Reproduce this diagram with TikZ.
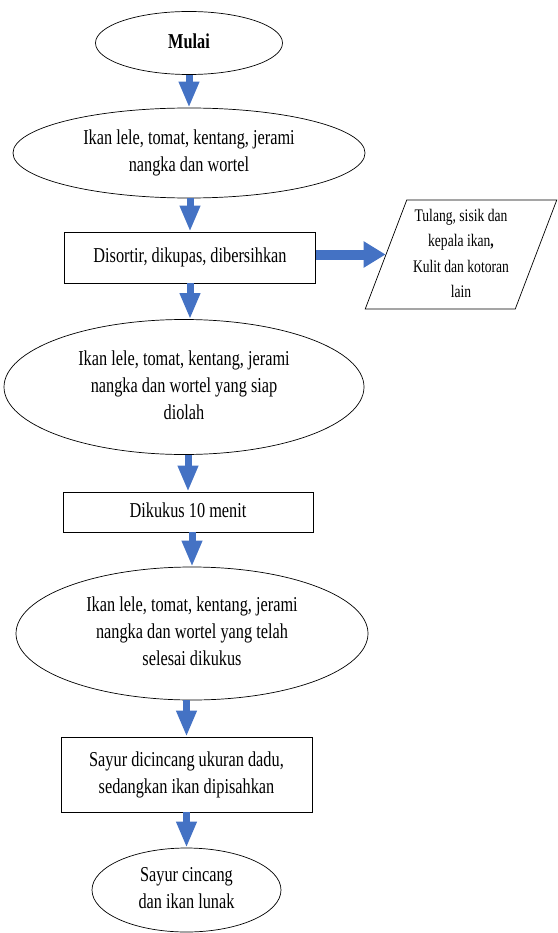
\documentclass[tikz,border=0pt]{standalone}
\usepackage{fontspec}
\setmainfont{Liberation Serif}
\usepackage{graphicx}
\usetikzlibrary{shapes.geometric,arrows.meta}

\definecolor{panah}{HTML}{4472C4}
% teks sedikit ditinggikan seperti di gambar asli
\newcommand{\tinggi}[1]{\scalebox{1}[1.3]{\begin{tabular}{@{}c@{}}#1\end{tabular}}}

\begin{document}
\begin{tikzpicture}[
        x=1pt, y=-1pt,
        every node/.style={draw=black, line width=0.7pt, inner sep=0pt, font=\fontsize{16.3}{20.8}\selectfont},
        nodeelips/.style={ellipse},
        nodekotak/.style={rectangle, minimum width=251pt},
        nodejajar/.style={trapezium, trapezium left angle=70, trapezium right angle=110, trapezium stretches=true, minimum width=192pt, minimum height=109pt, font=\fontsize{13.6}{19.4}\selectfont},
        panahbiru/.style={-{Triangle[length=26pt, width=19pt]}, line width=7pt, draw=panah}
        ]
        \useasboundingbox (0,0) rectangle (557,933);

        \node [nodeelips, minimum width=187pt, minimum height=63pt] (mulai) at (189,43) {\tinggi{\textbf{Mulai}}};
        \node [nodeelips, minimum width=352pt, minimum height=90pt] (bahan) at (189,153) {\tinggi{Ikan lele, tomat, kentang, jerami\\nangka dan wortel}};
        \node [nodekotak, minimum height=51pt] (sortir) at (190,257.5) {\tinggi{Disortir, dikupas, dibersihkan}};
        \node [nodejajar] (limbah) at (461,254.5) {\tinggi{Tulang, sisik dan\\kepala ikan\textbf{,}\\Kulit dan kotoran\\lain}};
        \node [nodeelips, minimum width=360pt, minimum height=135pt] (siap) at (184,387) {\tinggi{Ikan lele, tomat, kentang, jerami\\nangka dan wortel yang siap\\diolah}};
        \node [nodekotak, minimum width=250pt, minimum height=40pt] (kukus) at (188,512) {\tinggi{Dikukus 10 menit}};
        \node [nodeelips, minimum width=352pt, minimum height=133pt] (matang) at (192,633.5) {\tinggi{Ikan lele, tomat, kentang, jerami\\nangka dan wortel yang telah\\selesai dikukus}};
        \node [nodekotak, minimum height=75pt] (cincang) at (186.5,774.5) {\tinggi{Sayur dicincang ukuran dadu,\\sedangkan ikan dipisahkan}};
        \node [nodeelips, minimum width=189pt, minimum height=84pt] (hasil) at (186.5,890) {\tinggi{Sayur cincang\\dan ikan lunak}};

        \draw[panahbiru] (mulai.south -| bahan.north) -- (bahan.north);
        \draw[panahbiru] (bahan.south -| sortir.north) -- (sortir.north);
        \draw[panahbiru, line width=10pt, -{Triangle[length=22pt, width=25pt]}] (sortir.east |- limbah.west) -- (limbah.west);
        \draw[panahbiru] (sortir.south) -- (sortir.south |- siap.north);
        \draw[panahbiru] (siap.south -| kukus.north) -- (kukus.north);
        \draw[panahbiru] (kukus.south -| matang.north) -- (matang.north);
        \draw[panahbiru] (matang.south -| cincang.north) -- (cincang.north);
        \draw[panahbiru] (cincang.south -| hasil.north) -- (hasil.north);
    \end{tikzpicture}
\end{document}
